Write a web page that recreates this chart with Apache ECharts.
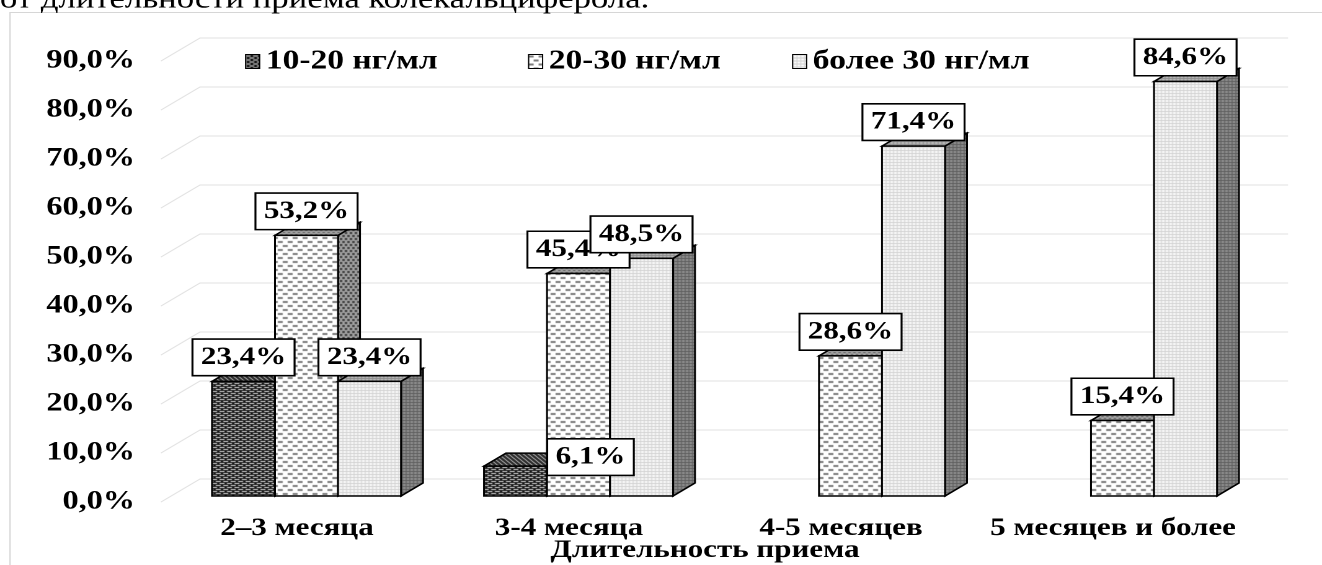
<!DOCTYPE html>
<html>
<head>
<meta charset="utf-8">
<script src="https://cdn.jsdelivr.net/npm/echarts@6/dist/echarts.min.js"></script>
<style>
  html, body { margin: 0; padding: 0; background: #fff; overflow: hidden; }
  #page { width: 1322px; height: 565px; overflow: hidden; position: relative; background: #fff; }
  #chart { height: 565px; transform-origin: 0 0; }
</style>
</head>
<body>
<div id="page"><div id="chart"></div></div>
<script>
// ---- data ----
const categories = ['2–3 месяца', '3-4 месяца', '4-5 месяцев', '5 месяцев и более'];
const seriesNames = ['10-20 нг/мл', '20-30 нг/мл', 'более 30 нг/мл'];
const level10to20 = [23.4, 6.1, 0, 0];
const level20to30 = [53.2, 45.4, 28.6, 15.4];
const levelOver30 = [23.4, 48.5, 71.4, 84.6];
const yTicks = [0, 10, 20, 30, 40, 50, 60, 70, 80, 90];
const caption = 'от длительности приема колекальциферола.';
const axisTitle = 'Длительность приема';

// ---- layout ----
// The figure uses wide-set type: the chart is laid out at a narrower width
// and widened horizontally, so every horizontal page measure goes through px().
const PAGE_W = 1322, PAGE_H = 565;
const W = Math.round(PAGE_W / 1.24);
const SX = PAGE_W / W;
const px = v => v / SX;

const SERIF = '"Liberation Serif", "Times New Roman", serif';
const FRONT_LEFT = 161, FRONT_RIGHT = 1249, FRONT_ZERO = 502, FRONT_TOP = 61;
const WALL = [px(39), -23];          // depth of the back wall
const BAR_SHIFT = [px(9.5), -6];     // columns stand a little behind the front edge
const BAR_DEPTH = [px(22), -13];     // thickness of each column
const BAR_FRAC = 63 / 272;           // column width as a share of a category band
const LABEL_RISE = 24;
const labelNudge = { '0:1': [px(75), 15] };   // the small 6,1% column keeps its label beside it
const LEGEND_X = [245, 528, 792];

document.getElementById('chart').style.width = W + 'px';
document.getElementById('chart').style.transform = 'scaleX(' + SX + ')';

const fmt = v => v.toFixed(1).replace('.', ',') + '%';

// ---- fill textures ----
function tile(w, h, bg, marks) {
  const c = document.createElement('canvas');
  c.width = w; c.height = h;
  const g = c.getContext('2d');
  g.fillStyle = bg; g.fillRect(0, 0, w, h);
  marks.forEach(([col, x, y, mw, mh]) => { g.fillStyle = col; g.fillRect(x, y, mw, mh); });
  return { image: c, repeat: 'repeat' };
}
const faces = [
  { // 10-20
    front: tile(6, 4, '#181818', [['#d4d4d4', 0, 1, 4, 1], ['#d4d4d4', 3, 3, 3, 1], ['#d4d4d4', 0, 3, 1, 1]]),
    top:   tile(4, 4, '#2a2a2a', [['#cfcfcf', 0, 0, 1, 1], ['#cfcfcf', 1, 1, 1, 1], ['#cfcfcf', 2, 2, 1, 1], ['#cfcfcf', 3, 3, 1, 1]]),
    side:  tile(6, 4, '#202020', [['#8a8a8a', 0, 1, 4, 1], ['#8a8a8a', 3, 3, 3, 1]])
  },
  { // 20-30
    front: tile(8, 8, '#ffffff', [['#7d7d7d', 0, 1, 4, 2], ['#7d7d7d', 4, 5, 4, 2]]),
    top:   tile(4, 4, '#a2a2a2', [['#626262', 0, 0, 2, 1], ['#626262', 2, 2, 2, 1]]),
    side:  tile(4, 6, '#a0a0a0', [['#3e3e3e', 0, 1, 2, 2], ['#3e3e3e', 2, 4, 2, 2]])
  },
  { // более 30
    front: tile(3, 3, '#f9f9f9', [['#d2d2d2', 0, 0, 3, 1], ['#dedede', 0, 1, 1, 2]]),
    top:   tile(3, 3, '#bbbbbb', [['#8a8a8a', 0, 0, 3, 1], ['#989898', 0, 1, 1, 2]]),
    side:  tile(3, 3, '#8e8e8e', [['#5e5e5e', 0, 0, 3, 1], ['#6a6a6a', 0, 1, 1, 2]])
  }
];

// ---- 3D columns ----
function columnRenderer(k) {
  return function (params, api) {
    const v = api.value(1);
    if (!v) return null;
    const cat = api.value(0);
    const base = api.coord([cat, 0]);
    const top = api.coord([cat, v]);
    const bw = api.size([1, 0])[0] * BAR_FRAC;
    const x0 = base[0] + BAR_SHIFT[0] + (k - 1.5) * bw;
    const yb = base[1] + BAR_SHIFT[1];
    const yt = top[1] + BAR_SHIFT[1];
    const dx = BAR_DEPTH[0], dy = BAR_DEPTH[1];
    const edge = { stroke: '#000', lineWidth: 1.5, lineJoin: 'miter' };
    const f = faces[k];
    const nudge = labelNudge[k + ':' + cat] || [0, 0];
    return {
      type: 'group',
      children: [
        { type: 'polygon', shape: { points: [[x0 + bw, yt], [x0 + bw + dx, yt + dy], [x0 + bw + dx, yb + dy], [x0 + bw, yb]] },
          style: Object.assign({ fill: f.side }, edge) },
        { type: 'polygon', shape: { points: [[x0, yt], [x0 + bw, yt], [x0 + bw + dx, yt + dy], [x0 + dx, yt + dy]] },
          style: Object.assign({ fill: f.top }, edge) },
        { type: 'rect', shape: { x: x0, y: yt, width: bw, height: yb - yt },
          style: Object.assign({ fill: f.front }, edge) },
        { type: 'text', x: x0 + bw / 2 + nudge[0], y: yt - LABEL_RISE + nudge[1], z2: 20 + k,
          style: { text: fmt(v), fill: '#000', font: 'bold 25px ' + SERIF, align: 'center', verticalAlign: 'middle',
                   backgroundColor: '#fff', borderColor: '#000', borderWidth: 1.6, padding: [6, 6, 4, 6] } }
      ]
    };
  };
}

const values = [level10to20, level20to30, levelOver30];
const columnSeries = values.map((arr, k) => ({
  type: 'custom',
  name: seriesNames[k],
  clip: false,
  silent: true,
  z: 3,
  itemStyle: { color: faces[k].front, borderColor: '#000', borderWidth: 1 },
  data: arr.map((v, i) => [i, v]),
  renderItem: columnRenderer(k)
}));

// back wall grid lines with their diagonal run to the front edge
const wallSeries = {
  type: 'custom',
  name: 'wall',
  clip: false,
  silent: true,
  z: 1,
  data: yTicks.map(t => [0, t]),
  renderItem(params, api) {
    const cs = params.coordSys;
    const y = api.coord([0, api.value(1)])[1];
    return {
      type: 'polyline',
      shape: { points: [[cs.x, y], [cs.x + WALL[0], y + WALL[1]], [cs.x + cs.width + WALL[0], y + WALL[1]]] },
      style: { stroke: '#e2e2e2', lineWidth: 1, fill: null }
    };
  }
};

const boldText = size => ({ fontFamily: SERIF, fontWeight: 'bold', fontSize: size, color: '#000' });

const option = {
  animation: false,
  backgroundColor: '#fff',
  grid: {
    left: px(FRONT_LEFT), right: px(PAGE_W - FRONT_RIGHT),
    top: FRONT_TOP, bottom: PAGE_H - FRONT_ZERO,
    containLabel: false,
    outerBoundsMode: 'none'
  },
  legend: seriesNames.map((name, i) => ({
    data: [name],
    left: px(LEGEND_X[i]) - 5,
    top: 43,
    icon: 'rect',
    itemWidth: px(14),
    itemHeight: 14,
    selectedMode: false,
    itemStyle: { borderColor: '#000', borderWidth: 1 },
    textStyle: boldText(27)
  })),
  xAxis: {
    type: 'category',
    data: categories,
    axisLine: { show: false },
    axisTick: { show: false },
    axisLabel: Object.assign({ interval: 0, margin: 14 }, boldText(25)),
    name: axisTitle,
    nameLocation: 'middle',
    nameGap: 36,
    nameMoveOverlap: false,
    nameTextStyle: boldText(25)
  },
  yAxis: {
    type: 'value',
    min: yTicks[0],
    max: yTicks[yTicks.length - 1],
    interval: yTicks[1] - yTicks[0],
    axisLine: { show: false },
    axisTick: { show: false },
    splitLine: { show: false },
    axisLabel: Object.assign({ formatter: fmt, margin: px(26) }, boldText(26))
  },
  graphic: [
    { type: 'rect', silent: true, z: -10,
      shape: { x: px(10), y: 12.5, width: W, height: PAGE_H },
      style: { fill: null, stroke: '#d6d6d6', lineWidth: 1 } },
    { type: 'text', silent: true, x: 0, y: 0,
      style: { text: caption, font: '28px ' + SERIF, fill: '#000', verticalAlign: 'middle' } }
  ],
  series: [wallSeries].concat(columnSeries)
};

const chart = echarts.init(document.getElementById('chart'), null, { renderer: 'canvas', devicePixelRatio: 2 });
chart.setOption(option);
</script>
</body>
</html>
